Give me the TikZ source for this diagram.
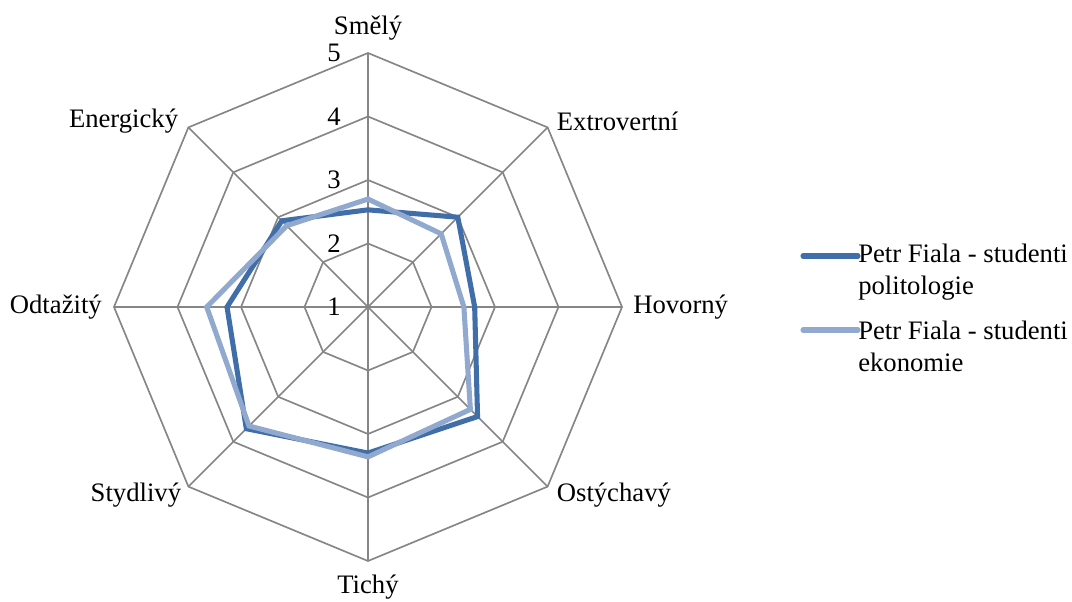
\documentclass[tikz,border=0pt]{standalone}
\usepackage{fontspec}
\setmainfont{Liberation Serif}
\usetikzlibrary{calc}
\definecolor{gridgray}{RGB}{134,134,134}
\definecolor{seriesdark}{RGB}{64,110,168}
\definecolor{serieslight}{RGB}{145,168,207}
\begin{document}
\begin{tikzpicture}[x=0.75pt,y=0.75pt,
  font=\fontsize{20}{24}\selectfont,
  gridline/.style={draw=gridgray, line width=1.25pt},
  seriesA/.style={draw=seriesdark, line width=3.8pt, line join=miter},
  seriesB/.style={draw=serieslight, line width=3.8pt, line join=miter},
  legline/.style={line width=3.8pt, line cap=round},
  axislabel/.style={inner sep=0pt},
  ticklabel/.style={inner sep=0pt, anchor=east}]
\useasboundingbox (0,0) rectangle (1072,601);
\coordinate (O) at (368,294);

% spokes
\foreach \i in {1,...,8} {
  \coordinate (v\i) at ($(O)+({90-45*(\i-1)}:254)$);
  \draw[gridline] (O) -- (v\i);
}
% octagonal grid (levels 2..5, level 1 at the centre)
\foreach \k in {2,...,5} {
  \foreach \i in {1,...,8} {
    \coordinate (g\k-\i) at ($(O)+({90-45*(\i-1)}:{(\k-1)*63.5})$);
  }
  \draw[gridline] (g\k-1) -- (g\k-2) -- (g\k-3) -- (g\k-4) -- (g\k-5)
    -- (g\k-6) -- (g\k-7) -- (g\k-8) -- cycle;
}

% scale labels
\foreach \k in {1,...,5} {
  \node[ticklabel] (t\k) at (341,{294+(\k-1)*63.5}) {\k};
}

% axis labels
\node[axislabel, anchor=south] (a1) at ($(v1)+(0,12)$) {Smělý};
\node[axislabel, anchor=west] (a2) at ($(v2)+(9,6)$) {Extrovertní};
\node[axislabel, anchor=west] (a3) at ($(v3)+(11,0)$) {Hovorný};
\node[axislabel, anchor=west] (a4) at ($(v4)+(9,-8)$) {Ostýchavý};
\node[axislabel, anchor=north] (a5) at ($(v5)+(0,-14)$) {Tichý};
\node[axislabel, anchor=east] (a6) at ($(v6)+(-7,-8)$) {Stydlivý};
\node[axislabel, anchor=east] (a7) at ($(v7)+(-12,0)$) {Odtažitý};
\node[axislabel, anchor=east] (a8) at ($(v8)+(-10,6)$) {Energický};

% data series
\foreach \v [count=\i] in {2.53,3.00,2.68,3.44,3.30,3.71,3.22,2.92} {
  \coordinate (p\i) at ($(O)+({90-45*(\i-1)}:{(\v-1)*63.5})$);
}
\foreach \v [count=\i] in {2.70,2.63,2.51,3.28,3.36,3.65,3.54,2.81} {
  \coordinate (q\i) at ($(O)+({90-45*(\i-1)}:{(\v-1)*63.5})$);
}
\draw[seriesA] (p1) -- (p2) -- (p3) -- (p4) -- (p5) -- (p6) -- (p7) -- (p8) -- cycle;
\draw[seriesB] (q1) -- (q2) -- (q3) -- (q4) -- (q5) -- (q6) -- (q7) -- (q8) -- cycle;

% legend
\node[inner sep=0pt, anchor=west, align=left] (leg1) at (858,329)
  {Petr Fiala - studenti\\politologie};
\node[inner sep=0pt, anchor=west, align=left] (leg2) at (858,254.5)
  {Petr Fiala - studenti\\ekonomie};
\coordinate (k1) at (803,345);
\coordinate (k2) at (803,271);
\draw[legline, seriesdark] (k1) -- (k1 -| leg1.west);
\draw[legline, serieslight] (k2) -- (k2 -| leg2.west);
\end{tikzpicture}
\end{document}
